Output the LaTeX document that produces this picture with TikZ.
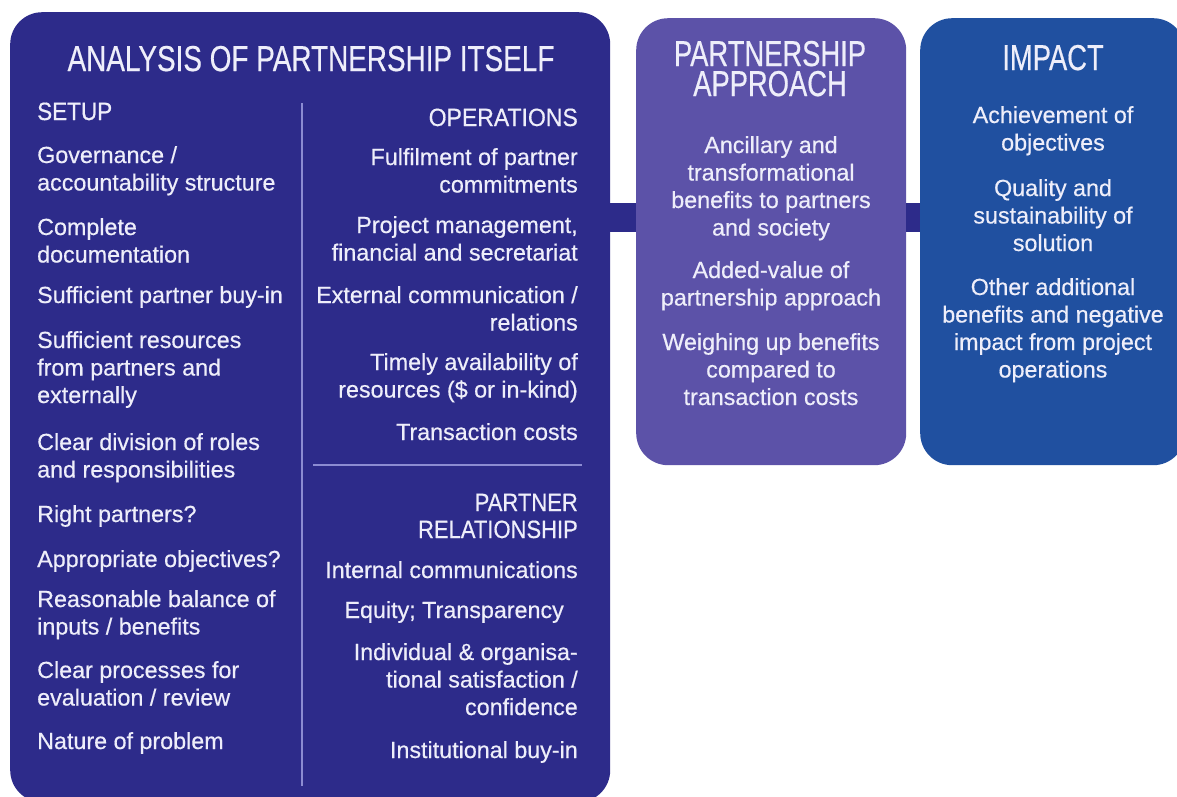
\documentclass[tikz,border=0pt]{standalone}
\usepackage{fontspec}
\setmainfont{Liberation Sans}[FakeBold=0.5]
\usepackage{graphicx}

\definecolor{navy}{RGB}{45,43,138}
\definecolor{violet}{RGB}{92,82,168}
\definecolor{cobalt}{RGB}{32,80,160}
\definecolor{ink}{RGB}{238,238,250}
\definecolor{rulecol}{RGB}{140,140,210}

% text blocks: [t] parboxes so that the node baseline is the first line
\newcommand{\blkL}[1]{\parbox[t]{290pt}{\raggedright #1}}
\newcommand{\blkR}[1]{\parbox[t]{290pt}{\raggedleft #1}}
\newcommand{\blkC}[1]{\parbox[t]{290pt}{\centering #1}}
\newcommand{\narrow}[2]{\scalebox{#1}[1]{#2}}

\begin{document}
\begin{tikzpicture}[x=1pt,y=-1pt,
  panel/.style={rounded corners=32, inner sep=0pt, anchor=north west},
  bar/.style={navy, line width=29},
  divider/.style={rulecol, line width=2},
  body/.style={text=ink, inner sep=0pt, font=\fontsize{23.3}{27.5}\selectfont},
  head/.style={text=ink, inner sep=0pt, font=\fontsize{36}{30}\selectfont},
  sub/.style={text=ink, inner sep=0pt, font=\fontsize{25}{27}\selectfont}]
\useasboundingbox (0,0) rectangle (1177,796);

% panels
\node[panel, fill=navy, minimum width=600, minimum height=790] (anal) at (10,12) {};
\node[panel, fill=violet, minimum width=270, minimum height=447] (appr) at (636,18) {};
\node[panel, fill=cobalt, minimum width=265, minimum height=447] (imp) at (920,18) {};

% connecting bars
\coordinate (barY) at (0,217.5);
\draw[bar] (anal.east |- barY) -- (appr.west |- barY);
\draw[bar] (appr.east |- barY) -- (imp.west |- barY);

% dividers inside the analysis panel
\coordinate (vTop) at (302,103);
\coordinate (vBot) at (302,786);
\coordinate (hL) at (313,465);
\coordinate (hR) at (582,465);
\draw[divider] (vTop) -- (vBot);
\draw[divider] (hL) -- (hR);

% ---- headings ----
\node[head, anchor=base] (tAnal) at (311,71) {\narrow{0.775}{ANALYSIS OF PARTNERSHIP ITSELF}};
\node[head, anchor=base] (tAppr) at (770,66) {\narrow{0.76}{\blkC{PARTNERSHIP\\APPROACH}}};
\node[head, anchor=base] (tImp) at (1053,70) {\narrow{0.76}{IMPACT}};

% ---- setup column ----
\node[sub, anchor=base west] (setup) at (37,120) {\narrow{0.9}{SETUP}};
\node[body, anchor=base west] (s1) at (37,163) {\blkL{Governance /\\accountability structure}};
\node[body, anchor=base west] (s2) at (37,235) {\blkL{Complete\\documentation}};
\node[body, anchor=base west] (s3) at (37,303) {\blkL{Sufficient partner buy-in}};
\node[body, anchor=base west] (s4) at (37,348) {\blkL{Sufficient resources\\from partners and\\externally}};
\node[body, anchor=base west] (s5) at (37,450) {\blkL{Clear division of roles\\and responsibilities}};
\node[body, anchor=base west] (s6) at (37,522) {\blkL{Right partners?}};
\node[body, anchor=base west] (s7) at (37,567) {\blkL{Appropriate objectives?}};
\node[body, anchor=base west] (s8) at (37,607) {\blkL{Reasonable balance of\\inputs / benefits}};
\node[body, anchor=base west] (s9) at (37,678) {\blkL{Clear processes for\\evaluation / review}};
\node[body, anchor=base west] (s10) at (37,749) {\blkL{Nature of problem}};

% ---- operations column ----
\node[sub, anchor=base east] (ops) at (578,126) {\narrow{0.92}{OPERATIONS}};
\node[body, anchor=base east] (o1) at (578,165) {\blkR{Fulfilment of partner\\commitments}};
\node[body, anchor=base east] (o2) at (578,233) {\blkR{Project management,\\financial and secretariat}};
\node[body, anchor=base east] (o3) at (578,303) {\blkR{External communication /\\relations}};
\node[body, anchor=base east] (o4) at (578,370) {\blkR{Timely availability of\\resources (\$ or in-kind)}};
\node[body, anchor=base east] (o5) at (578,440) {\blkR{Transaction costs}};

% ---- partner relationship ----
\node[sub, anchor=base east] (rel) at (578,511) {\narrow{0.88}{\blkR{PARTNER\\RELATIONSHIP}}};
\node[body, anchor=base east] (r1) at (578,578) {\blkR{Internal communications}};
\node[body, anchor=base east] (r2) at (564,618) {\blkR{Equity; Transparency}};
\node[body, anchor=base east] (r3) at (578,660) {\blkR{Individual \& organisa-\\tional satisfaction /\\confidence}};
\node[body, anchor=base east] (r4) at (578,758) {\blkR{Institutional buy-in}};

% ---- partnership approach ----
\node[body, anchor=base] (a1) at (771,153) {\blkC{Ancillary and\\transformational\\benefits to partners\\and society}};
\node[body, anchor=base] (a2) at (771,278) {\blkC{Added-value of\\partnership approach}};
\node[body, anchor=base] (a3) at (771,350) {\blkC{Weighing up benefits\\compared to\\transaction costs}};

% ---- impact ----
\node[body, anchor=base] (i1) at (1053,123) {\blkC{Achievement of\\objectives}};
\node[body, anchor=base] (i2) at (1053,196) {\blkC{Quality and\\sustainability of\\solution}};
\node[body, anchor=base] (i3) at (1053,295) {\blkC{Other additional\\benefits and negative\\impact from project\\operations}};
\end{tikzpicture}
\end{document}
